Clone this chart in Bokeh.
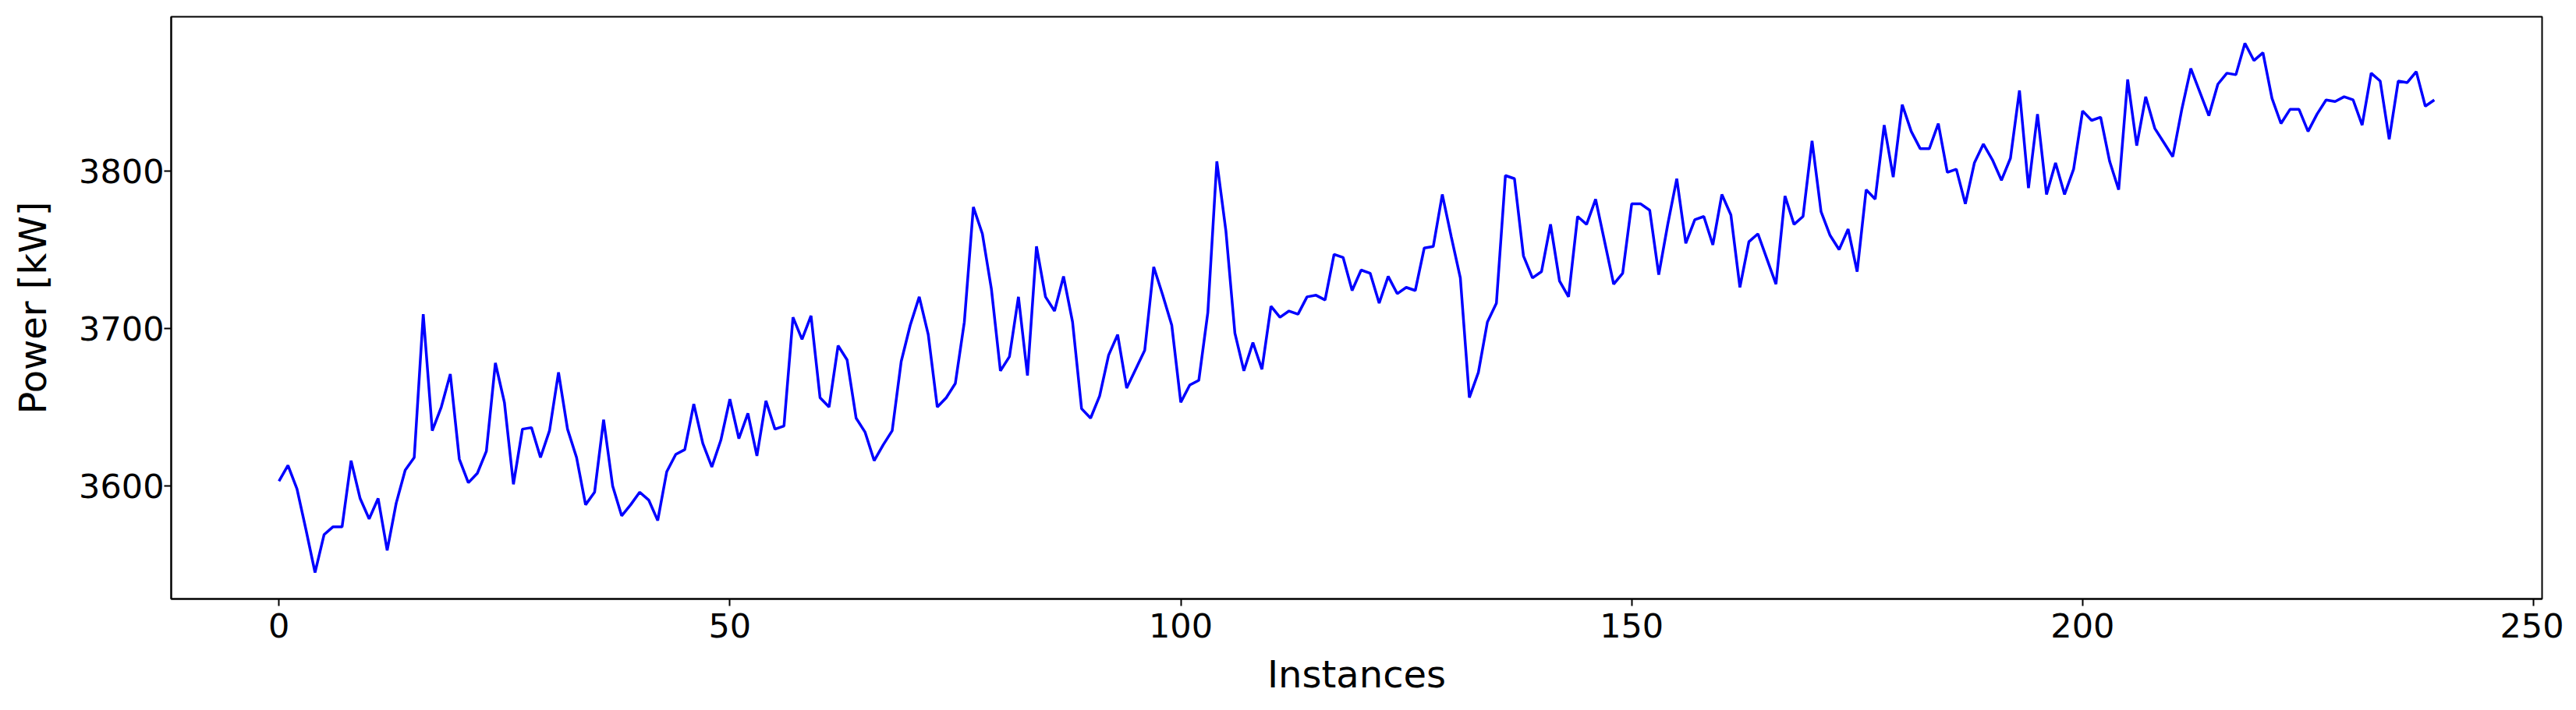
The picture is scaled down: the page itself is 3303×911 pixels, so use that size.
from bokeh.plotting import figure
from bokeh.models import Range1d, FixedTicker
from bokeh.embed import file_html
from bokeh.resources import INLINE

power_kw = [
    3603, 3613, 3598, 3572, 3545, 3569, 3574, 3574, 3616, 3592,
    3579, 3592, 3559, 3589, 3610, 3618, 3709, 3635, 3650, 3671,
    3617, 3602, 3608, 3622, 3678, 3653, 3601, 3636, 3637, 3618,
    3635, 3672, 3636, 3618, 3588, 3596, 3642, 3600, 3581, 3588,
    3596, 3591, 3578, 3609, 3620, 3623, 3652, 3627, 3612, 3629,
    3655, 3630, 3646, 3619, 3654, 3636, 3638, 3707, 3693, 3708,
    3656, 3650, 3689, 3680, 3643, 3634, 3616, 3626, 3635, 3679,
    3702, 3720, 3696, 3650, 3656, 3665, 3704, 3777, 3760, 3725,
    3673, 3682, 3720, 3670, 3752, 3720, 3711, 3733, 3704, 3649,
    3643, 3657, 3683, 3696, 3662, 3674, 3686, 3739, 3721, 3702,
    3653, 3664, 3667, 3710, 3806, 3762, 3697, 3673, 3691, 3674,
    3714, 3707, 3711, 3709, 3720, 3721, 3718, 3747, 3745, 3724,
    3737, 3735, 3716, 3733, 3722, 3726, 3724, 3751, 3752, 3785,
    3758, 3732, 3656, 3672, 3704, 3716, 3797, 3795, 3746, 3732,
    3736, 3766, 3730, 3720, 3771, 3766, 3782, 3755, 3728, 3735,
    3779, 3779, 3775, 3734, 3766, 3795, 3754, 3769, 3771, 3753,
    3785, 3772, 3726, 3755, 3760, 3744, 3728, 3784, 3766, 3771,
    3819, 3774, 3759, 3750, 3763, 3736, 3788, 3782, 3829, 3796,
    3842, 3825, 3814, 3814, 3830, 3799, 3801, 3779, 3805, 3817,
    3807, 3794, 3808, 3851, 3789, 3836, 3785, 3805, 3785, 3801,
    3838, 3832, 3834, 3806, 3788, 3858, 3816, 3847, 3827, 3818,
    3809, 3839, 3865, 3850, 3835, 3855, 3862, 3861, 3881, 3870,
    3875, 3846, 3830, 3839, 3839, 3825, 3836, 3845, 3844, 3847,
    3845, 3829, 3862, 3857, 3820, 3857, 3856, 3863, 3841, 3845,
]
instances = list(range(len(power_kw)))

x_ticks = [0, 50, 100, 150, 200, 250]
y_ticks = [3600, 3700, 3800]
x_label = "Instances"
y_label = "Power [kW]"

xmin, xmax = min(instances), max(instances)
ymin, ymax = min(power_kw), max(power_kw)
xpad = 0.05 * (xmax - xmin)
ypad = 0.05 * (ymax - ymin)

p = figure(
    width=3287, height=895,
    output_backend="svg", toolbar_location=None,
    x_range=Range1d(xmin - xpad, xmax + xpad),
    y_range=Range1d(ymin - ypad, ymax + ypad),
    min_border_left=219, min_border_right=28,
    min_border_top=21, min_border_bottom=122,
)
p.line(instances, power_kw, line_color="#0000ff", line_width=3.5)

p.xgrid.visible = False
p.ygrid.visible = False
p.outline_line_color = "black"
p.outline_line_width = 2
p.background_fill_color = "white"
p.border_fill_color = "white"

p.xaxis.ticker = FixedTicker(ticks=x_ticks)
p.yaxis.ticker = FixedTicker(ticks=y_ticks)
p.xaxis.axis_label = x_label
p.yaxis.axis_label = y_label

for ax in (p.xaxis, p.yaxis):
    ax.axis_line_color = "black"
    ax.axis_line_width = 2
    ax.major_tick_line_color = "black"
    ax.major_tick_line_width = 2
    ax.major_tick_out = 9
    ax.major_tick_in = 0
    ax.minor_tick_line_color = None
    ax.major_label_text_font = "DejaVu Sans"
    ax.major_label_text_font_size = "43px"
    ax.major_label_text_color = "black"
    ax.axis_label_text_font = "DejaVu Sans"
    ax.axis_label_text_font_size = "48px"
    ax.axis_label_text_font_style = "normal"
    ax.axis_label_text_color = "black"

p.xaxis.major_label_standoff = 9
p.yaxis.major_label_standoff = 0
p.xaxis.axis_label_standoff = 16
p.yaxis.axis_label_standoff = 28

open("out.html", "w").write(file_html(p, INLINE))
